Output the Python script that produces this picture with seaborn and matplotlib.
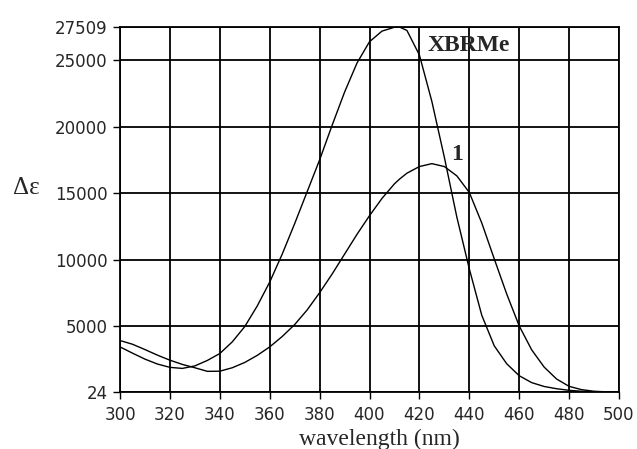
import seaborn as sns
import numpy as np
import pandas as pd
import matplotlib.pyplot as plt

# wavelength grid (nm) and read-off values of delta epsilon
wavelength = [300, 305, 310, 315, 320, 325, 330, 335, 340, 345, 350, 355, 360, 365,
              370, 375, 380, 385, 390, 395, 400, 405, 410, 412, 415, 420, 425, 430,
              435, 440, 445, 450, 455, 460, 465, 470, 475, 480, 485, 490, 495, 500]

xbrme = [3420, 2950, 2500, 2130, 1880, 1800, 1990, 2400, 2920, 3800, 4950, 6500, 8300, 10400,
         12700, 15100, 17500, 20100, 22600, 24800, 26400, 27200, 27490, 27509, 27250, 25400, 21900, 17700,
         13200, 9300, 5800, 3500, 2150, 1250, 730, 440, 270, 150, 80, 40, 25, 24]

cmpd1 = [3900, 3620, 3220, 2800, 2420, 2100, 1850, 1580, 1590, 1850, 2250, 2780, 3420, 4200,
         5100, 6200, 7500, 8900, 10400, 11900, 13300, 14600, 15700, 16050, 16500, 17000, 17220, 17000,
         16300, 15050, 12750, 10050, 7400, 5000, 3200, 1900, 1000, 450, 200, 80, 35, 24]

yticks = [24, 5000, 10000, 15000, 20000, 25000, 27509]
xticks = list(range(300, 501, 20))

df = pd.DataFrame({'wavelength': wavelength, 'XBRMe': xbrme, '1': cmpd1})

sns.set_style("white")
plt.rcParams['font.family'] = ['DejaVu Sans']

fig = plt.figure(figsize=(6.37, 4.49), dpi=100)
ax = fig.add_axes([120 / 637, 1 - 392 / 449, 499 / 637, 365 / 449])

sns.lineplot(x='wavelength', y='XBRMe', data=df, color='black', linewidth=1.0, ax=ax)
sns.lineplot(x='wavelength', y='1', data=df, color='black', linewidth=1.0, ax=ax)

ax.set_xlim(300, 500)
ax.set_ylim(24, 27509)
ax.set_xticks(xticks)
ax.set_yticks(yticks)
ax.grid(True, color='black', linewidth=1.3)
ax.set_axisbelow(True)
for s in ax.spines.values():
    s.set_color('black')
    s.set_linewidth(1.3)

ax.tick_params(axis='both', direction='out', length=5, width=1.0, color='black',
               labelsize=12, left=True, bottom=True)
ax.tick_params(axis='x', pad=5)
ax.tick_params(axis='y', pad=4)

ax.set_xlabel('wavelength (nm)', family=['Liberation Serif'], fontsize=17)
ax.xaxis.set_label_coords(0.519, -0.131)
ax.xaxis.label.set_va('center')
ax.set_ylabel('Δε', family=['Liberation Serif', 'DejaVu Serif'], fontsize=18, rotation=0)
ax.yaxis.set_label_coords(-0.188, 0.56)
ax.yaxis.label.set_va('center')
ax.yaxis.label.set_ha('center')

ax.text(439.7, 26080, 'XBRMe', family=['Liberation Serif'], fontsize=17,
        fontweight='bold', ha='center', va='center')
ax.text(434.9, 17900, '1', family=['Liberation Serif'], fontsize=17,
        fontweight='bold', ha='center', va='center')

fig.savefig('out.png', dpi=100)
